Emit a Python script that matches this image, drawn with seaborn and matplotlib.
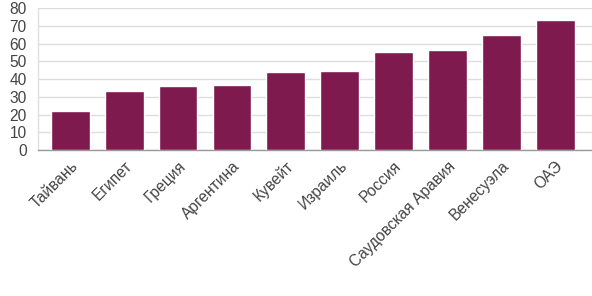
import matplotlib
matplotlib.use("Agg")
import matplotlib.pyplot as plt
import seaborn as sns
import pandas as pd

countries = ["Тайвань", "Египет", "Греция", "Аргентина", "Кувейт", "Израиль",
             "Россия", "Саудовская Аравия", "Венесуэла", "ОАЭ"]
values = [22.1, 33.4, 36.2, 36.8, 44.1, 44.7, 55.0, 56.5, 64.6, 73.4]
yticks = [0, 10, 20, 30, 40, 50, 60, 70, 80]

sns.set_theme(style="white")
plt.rcParams['font.family'] = ['Liberation Sans', 'DejaVu Sans']

df = pd.DataFrame({"country": countries, "value": values})

fig = plt.figure(figsize=(5.92, 2.96), dpi=100)
ax = fig.add_axes([0.064, 0.493, 0.936, 0.48])
sns.barplot(data=df, x="country", y="value", color="#7f1a4e", saturation=1,
            width=0.72, ax=ax, zorder=3)

ax.set_ylim(0, 80)
ax.set_xlim(-0.6, 9.68)
ax.set_yticks(yticks)
ax.set_yticklabels([str(t) for t in yticks], fontsize=11.2, color="#444444")
ax.yaxis.grid(True, color="#dddddd", linewidth=1, zorder=0)
ax.set_axisbelow(True)
ax.set_xlabel("")
ax.set_ylabel("")
for lbl in ax.get_xticklabels():
    lbl.set_rotation(45)
    lbl.set_ha("right")
    lbl.set_rotation_mode("anchor")
    lbl.set_fontsize(11.2)
    lbl.set_color("#444444")
ax.tick_params(axis="both", length=0)
ax.tick_params(axis="y", pad=8)
ax.tick_params(axis="x", pad=6)
for s in ["top", "right"]:
    ax.spines[s].set_visible(False)
ax.spines["left"].set_color("#e0e0e0")
ax.spines["bottom"].set_color("#999999")
ax.spines["left"].set_linewidth(1)
ax.spines["bottom"].set_linewidth(1)

fig.savefig("out.png", dpi=100)
